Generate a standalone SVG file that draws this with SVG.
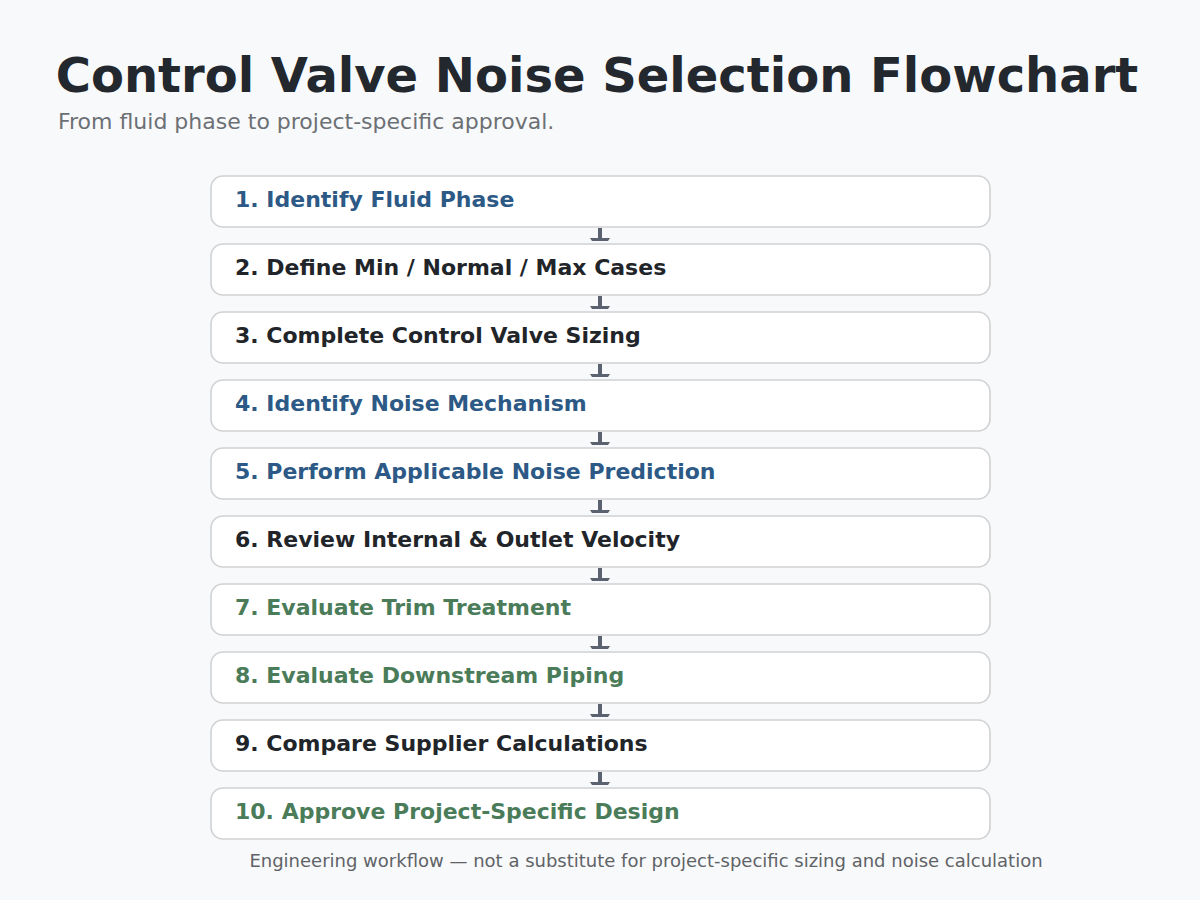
<svg xmlns="http://www.w3.org/2000/svg" width="1200" height="900" viewBox="0 0 1200 900">
<style>
.bg{fill:#f8f9fa}
.box{fill:#ffffff;stroke:#cfd1d3;stroke-width:1.6}
.lbl{font-family:"DejaVu Sans",sans-serif;font-weight:bold;font-size:22px}
.blue{fill:#2c5985}
.dark{fill:#212529}
.green{fill:#4a7c59}
.arr{fill:#5a6270}
</style>
<defs>
<g id="arrow">
<rect x="-2" y="0" width="4" height="10"/>
<polygon points="-10,10 10,10 8,13 -8,13"/>
</g>
</defs>
<rect class="bg" x="0" y="0" width="1200" height="900"/>
<text x="597" y="92" text-anchor="middle" font-family="DejaVu Sans, sans-serif" font-weight="bold" font-size="48" fill="#23272e">Control Valve Noise Selection Flowchart</text>
<text x="58" y="129" font-family="DejaVu Sans, sans-serif" font-size="22" fill="#6c7075">From fluid phase to project-specific approval.</text>
<g id="connectors" class="arr">
<use href="#arrow" x="600" y="228"/>
<use href="#arrow" x="600" y="296"/>
<use href="#arrow" x="600" y="364"/>
<use href="#arrow" x="600" y="432"/>
<use href="#arrow" x="600" y="500"/>
<use href="#arrow" x="600" y="568"/>
<use href="#arrow" x="600" y="636"/>
<use href="#arrow" x="600" y="704"/>
<use href="#arrow" x="600" y="772"/>
</g>
<g id="step1"><rect class="box" x="211" y="176" width="779" height="51" rx="12"/><text class="lbl blue" x="235" y="207">1. Identify Fluid Phase</text></g>
<g id="step2"><rect class="box" x="211" y="244" width="779" height="51" rx="12"/><text class="lbl dark" x="235" y="275">2. Define Min / Normal / Max Cases</text></g>
<g id="step3"><rect class="box" x="211" y="312" width="779" height="51" rx="12"/><text class="lbl dark" x="235" y="343">3. Complete Control Valve Sizing</text></g>
<g id="step4"><rect class="box" x="211" y="380" width="779" height="51" rx="12"/><text class="lbl blue" x="235" y="411">4. Identify Noise Mechanism</text></g>
<g id="step5"><rect class="box" x="211" y="448" width="779" height="51" rx="12"/><text class="lbl blue" x="235" y="479">5. Perform Applicable Noise Prediction</text></g>
<g id="step6"><rect class="box" x="211" y="516" width="779" height="51" rx="12"/><text class="lbl dark" x="235" y="547">6. Review Internal &amp; Outlet Velocity</text></g>
<g id="step7"><rect class="box" x="211" y="584" width="779" height="51" rx="12"/><text class="lbl green" x="235" y="615">7. Evaluate Trim Treatment</text></g>
<g id="step8"><rect class="box" x="211" y="652" width="779" height="51" rx="12"/><text class="lbl green" x="235" y="683">8. Evaluate Downstream Piping</text></g>
<g id="step9"><rect class="box" x="211" y="720" width="779" height="51" rx="12"/><text class="lbl dark" x="235" y="751">9. Compare Supplier Calculations</text></g>
<g id="step10"><rect class="box" x="211" y="788" width="779" height="51" rx="12"/><text class="lbl green" x="235" y="819">10. Approve Project-Specific Design</text></g>
<text x="646" y="867" text-anchor="middle" font-family="DejaVu Sans, sans-serif" font-size="18" fill="#5f6368">Engineering workflow — not a substitute for project-specific sizing and noise calculation</text>
</svg>
